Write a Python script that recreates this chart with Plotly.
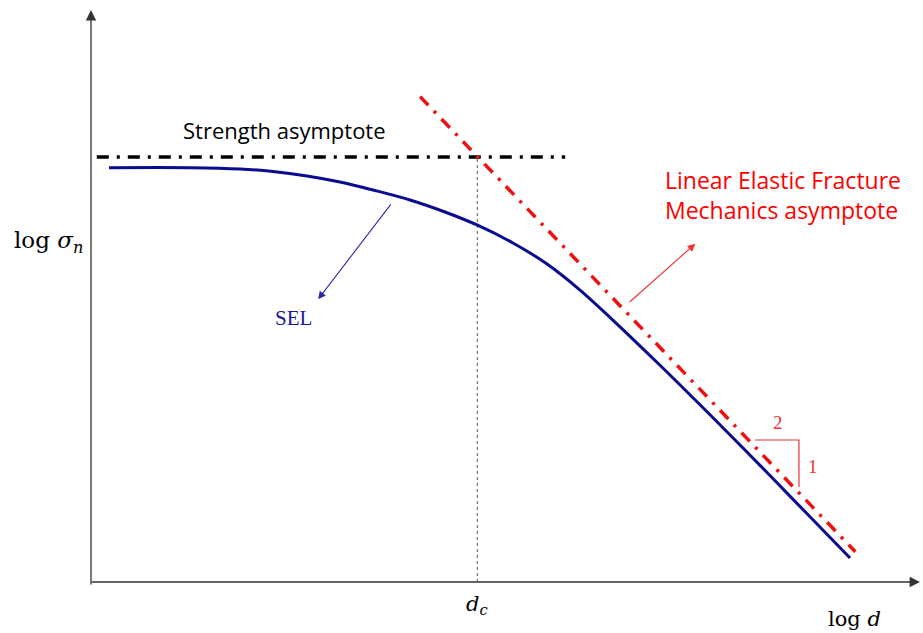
import plotly.graph_objects as go

# Logical coordinates: x = log d, y = log sigma_n (arbitrary units)
sel_x = [0.217, 1.194, 1.797, 2.195, 2.606, 3.004, 3.402, 3.848, 4.270, 4.656,
         5.090, 5.501, 5.899, 6.285, 6.864, 7.467, 7.865, 8.275, 8.673, 9.156]
sel_y = [5.070, 5.070, 5.054, 5.024, 4.969, 4.895, 4.797, 4.675, 4.528, 4.369,
         4.149, 3.892, 3.573, 3.215, 2.652, 2.046, 1.639, 1.214, 0.798, 0.294]

strength_x = [0.07, 5.72]
strength_y = [5.20, 5.20]

lefm_x = [3.97, 9.22]
lefm_y = [5.94, 0.37]

dc_x = [4.66, 4.66]
dc_y = [0.0, 5.20]

tri_x = [8.01, 8.54, 8.54]
tri_y = [1.738, 1.738, 1.163]

X_MAX, Y_MAX = 10.0, 7.0

fig = go.Figure()

fig.add_trace(go.Scatter(x=dc_x, y=dc_y, mode="lines",
                         line=dict(color="#555555", width=1, dash="3px,3px"),
                         hoverinfo="skip"))
fig.add_trace(go.Scatter(x=strength_x, y=strength_y, mode="lines",
                         line=dict(color="black", width=3.5, dash="12px,8px,3px,8px"),
                         hoverinfo="skip"))
fig.add_trace(go.Scatter(x=sel_x, y=sel_y, mode="lines",
                         line=dict(color="#0b0b8f", width=3, shape="spline", smoothing=1.0),
                         hoverinfo="skip"))
fig.add_trace(go.Scatter(x=lefm_x, y=lefm_y, mode="lines",
                         line=dict(color="#ee1111", width=3.5, dash="12px,8px,3px,8px"),
                         hoverinfo="skip"))
fig.add_trace(go.Scatter(x=tri_x, y=tri_y, mode="lines",
                         line=dict(color="#ee3333", width=1.2),
                         hoverinfo="skip"))

anns = []
# axes with arrows
anns.append(dict(x=0, y=Y_MAX, ax=0, ay=-0.05, xref="x", yref="y", axref="x", ayref="y",
                 showarrow=True, arrowhead=2, arrowsize=1.6, arrowwidth=1.3,
                 arrowcolor="#333333", text=""))
anns.append(dict(x=X_MAX, y=0, ax=-0.01, ay=0, xref="x", yref="y", axref="x", ayref="y",
                 showarrow=True, arrowhead=2, arrowsize=1.6, arrowwidth=1.3,
                 arrowcolor="#333333", text=""))
# SEL pointer
anns.append(dict(x=2.74, y=3.46, ax=3.63, ay=4.64, xref="x", yref="y", axref="x", ayref="y",
                 showarrow=True, arrowhead=2, arrowsize=1.4, arrowwidth=1.1,
                 arrowcolor="#2a2aa8", text=""))
# LEFM pointer
anns.append(dict(x=7.29, y=4.14, ax=6.48, ay=3.41, xref="x", yref="y", axref="x", ayref="y",
                 showarrow=True, arrowhead=2, arrowsize=1.4, arrowwidth=1.1,
                 arrowcolor="#f03030", text=""))

serif = "Liberation Serif, Times New Roman, serif"
math = "DejaVu Serif, Liberation Serif, serif"
sans = "Open Sans, Noto Sans, sans-serif"

anns += [
    dict(x=2.34, y=5.53, text="Strength asymptote", showarrow=False,
         font=dict(family=sans, size=22, color="black")),
    dict(x=6.90, y=4.74, text="Linear Elastic Fracture<br>Mechanics asymptote",
         showarrow=False, xanchor="left", align="left",
         font=dict(family=sans, size=23, color="#ff0000")),
    dict(x=2.44, y=3.23, text="SEL", showarrow=False,
         font=dict(family=serif, size=21, color="#1a1a9a")),
    dict(x=8.29, y=1.95, text="2", showarrow=False,
         font=dict(family=serif, size=19, color="#ee3333")),
    dict(x=8.71, y=1.41, text="1", showarrow=False,
         font=dict(family=serif, size=19, color="#ee3333")),
    # labels outside plotting area (paper coordinates)
    dict(x=-0.095, y=0.594, xref="paper", yref="paper",
         text="log <i>σ</i><sub><i>n</i></sub>", showarrow=False,
         font=dict(family=math, size=23, color="black")),
    dict(x=0.4656, y=-0.066, xref="paper", yref="paper",
         text="<i>d</i><sub><i>c</i></sub>", showarrow=False,
         font=dict(family=math, size=21, color="black")),
    dict(x=0.955, y=-0.090, xref="paper", yref="paper",
         text="log <i>d</i>", showarrow=False,
         font=dict(family=math, size=21, color="black")),
]

for a in anns:
    fig.add_annotation(**a)

fig.update_layout(
    width=923, height=633,
    margin=dict(l=91, r=3, t=10, b=51),
    paper_bgcolor="white", plot_bgcolor="white",
    showlegend=False,
    xaxis=dict(range=[0, X_MAX], visible=False, fixedrange=True),
    yaxis=dict(range=[0, Y_MAX], visible=False, fixedrange=True),
)

fig.write_html("out.html")
